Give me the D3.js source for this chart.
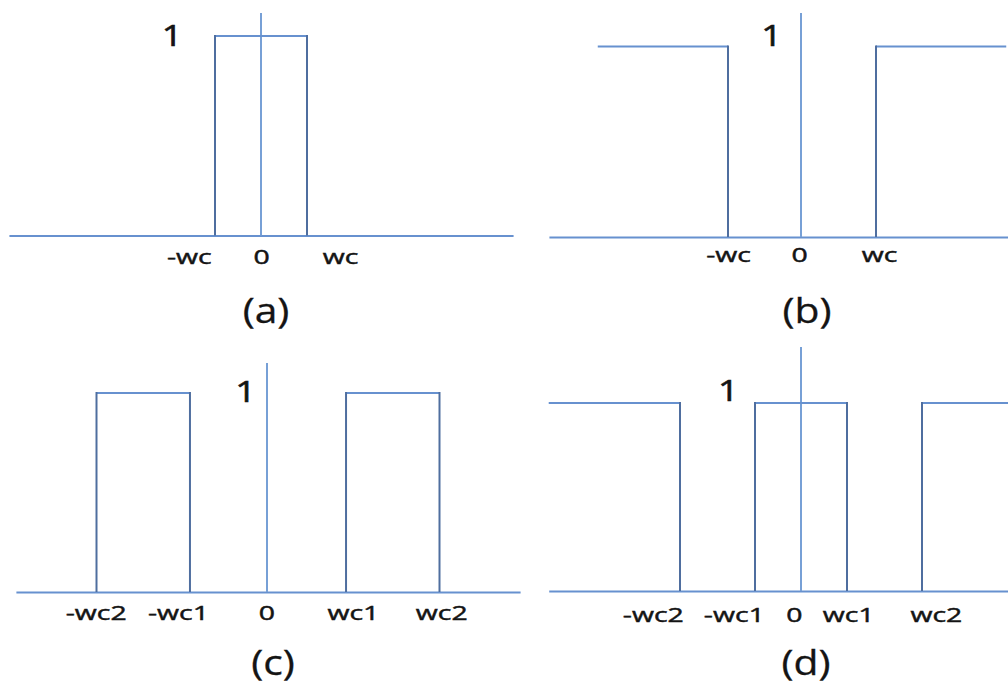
<!DOCTYPE html>
<html>
<head>
<meta charset="utf-8">
<script src="https://cdn.jsdelivr.net/npm/d3@7"></script>
<style>
  html, body { margin: 0; padding: 0; background: #ffffff; }
  svg { display: block; }
</style>
</head>
<body>
<svg id="chart" width="1008" height="686"></svg>
<script>
// Ideal filter magnitude responses: low-pass, high-pass, band-pass, band-stop.

const captions = ["(a)", "(b)", "(c)", "(d)"];

// Passbands as [low, high] on the frequency axis (units of the panel's cut-off);
// ±Infinity means the band runs on past the drawn axis.
const passA = [[-1, 1]];
const passB = [[-Infinity, -1], [1, Infinity]];
const passC = [[-2, -0.91], [0.91, 2]];
const passD = [[-Infinity, -2], [-0.76, 0.76], [2, Infinity]];

// Frequency tick labels and where they sit along each axis
const ticksA = ["-wc", "0", "wc"];
const tickPosA = [-1.57, 0, 1.72];
const ticksB = ["-wc", "0", "wc"];
const tickPosB = [-1.0, -0.04, 1.04];
const ticksC = ["-wc2", "-wc1", "0", "wc1", "wc2"];
const tickPosC = [-2.01, -1.05, -0.02, 0.99, 2.02];
const ticksD = ["-wc2", "-wc1", "0", "wc1", "wc2"];
const tickPosD = [-2.45, -1.11, -0.12, 0.78, 2.23];

// Passband gain and the "1" marker on each vertical axis
const passGain = 1;
const gainLabel = "1";
const gainLabelPos = [-1.93, -0.41, -0.26, -1.2];   // frequency position of the "1"
const gainLabelLevel = [1.0, 1.06, 1.005, 1.064];  // height of the "1" (in gain units)
const axisTopGain = [1.115, 1.176, 1.151, 1.298];   // how far the vertical axis reaches

// Extent of the frequency axis and of the drawn response in each panel
const axisSpan = [5.48, 3.42, 2.94, 4.17];
const responseReach = [5.48, 2.76, 2.94, 4.17];

const panels = [
  { pass: passA, ticks: ticksA, tickPos: tickPosA },
  { pass: passB, ticks: ticksB, tickPos: tickPosB },
  { pass: passC, ticks: ticksC, tickPos: tickPosC },
  { pass: passD, ticks: ticksD, tickPos: tickPosD }
];

// Placement of each panel on the page: zero frequency, pixels per unit, baseline,
// passband top, vertical axis, drop to the tick labels and drop to the caption
const frames = [
  { x0: 261, unit: 46,    base: 235.5, top: 36,   yAxis: 261, labelDrop: 22,   captionDrop: 75 },
  { x0: 802, unit: 74,    base: 237,   top: 46.5, yAxis: 801, labelDrop: 18.5, captionDrop: 74 },
  { x0: 268, unit: 85.75, base: 592,   top: 393,  yAxis: 267, labelDrop: 21.5, captionDrop: 71 },
  { x0: 801, unit: 60.5,  base: 591,   top: 403,  yAxis: 801, labelDrop: 24.5, captionDrop: 72 }
];

const levelColor = "#6791cf";
const edgeColor = "#4f6e9f";
const axisColor = "#77a0d6";
const textColor = "#141414";
const fontFamily = "'Open Sans', 'DejaVu Sans', sans-serif";

const svg = d3.select("#chart");

panels.forEach((p, i) => {
  const f = frames[i];
  const span = axisSpan[i];
  const reach = responseReach[i];

  const x = d3.scaleLinear()
    .domain([-span, span])
    .range([f.x0 - span * f.unit, f.x0 + span * f.unit]);
  const y = d3.scaleLinear()
    .domain([0, passGain])
    .range([f.base, f.top]);

  const g = svg.append("g").attr("class", "panel");

  // Frequency axis (baseline) with its labels
  const xAxis = d3.axisBottom(x)
    .tickValues(p.tickPos)
    .tickFormat((d, k) => p.ticks[k])
    .tickSize(0)
    .tickSizeOuter(0);

  const ax = g.append("g")
    .attr("transform", `translate(0,${f.base})`)
    .call(xAxis);
  ax.select(".domain")
    .attr("stroke", levelColor)
    .attr("stroke-width", 2);
  ax.selectAll(".tick text")
    .attr("fill", textColor)
    .attr("stroke", textColor)
    .attr("stroke-width", 0.45)
    .attr("font-family", fontFamily)
    .attr("font-size", 20)
    .attr("transform", "scale(1.42,1)")
    .attr("dy", "0.35em")
    .attr("y", f.labelDrop);

  // Vertical axis through zero frequency
  g.append("line")
    .attr("x1", f.yAxis).attr("x2", f.yAxis)
    .attr("y1", y(0)).attr("y2", y(axisTopGain[i]))
    .attr("stroke", axisColor)
    .attr("stroke-width", 2);

  // Passband levels and their transition edges
  p.pass.forEach(([lo, hi]) => {
    const a = Math.max(lo, -reach);
    const b = Math.min(hi, reach);
    g.append("line")
      .attr("x1", x(a)).attr("x2", x(b))
      .attr("y1", y(passGain)).attr("y2", y(passGain))
      .attr("stroke", levelColor)
      .attr("stroke-width", 2);
    [lo, hi].filter(Number.isFinite).forEach(e => {
      g.append("line")
        .attr("x1", x(e)).attr("x2", x(e))
        .attr("y1", y(0)).attr("y2", y(passGain) - 1)
        .attr("stroke", edgeColor)
        .attr("stroke-width", 2);
    });
  });

  // "1" marker for the passband gain
  g.append("text")
    .attr("transform", `translate(${x(gainLabelPos[i])},${y(gainLabelLevel[i])}) scale(1.25,1)`)
    .attr("text-anchor", "middle")
    .attr("dy", "0.36em")
    .attr("fill", textColor)
    .attr("stroke", textColor)
    .attr("stroke-width", 0.6)
    .attr("font-family", fontFamily)
    .attr("font-size", 29)
    .text(gainLabel);

  // Panel caption
  g.append("text")
    .attr("transform", `translate(${x(0) + 5},${f.base + f.captionDrop}) scale(1.2,1)`)
    .attr("text-anchor", "middle")
    .attr("dy", "0.36em")
    .attr("fill", textColor)
    .attr("stroke", textColor)
    .attr("stroke-width", 0.3)
    .attr("font-family", fontFamily)
    .attr("font-size", 34)
    .text(captions[i]);
});
</script>
</body>
</html>
